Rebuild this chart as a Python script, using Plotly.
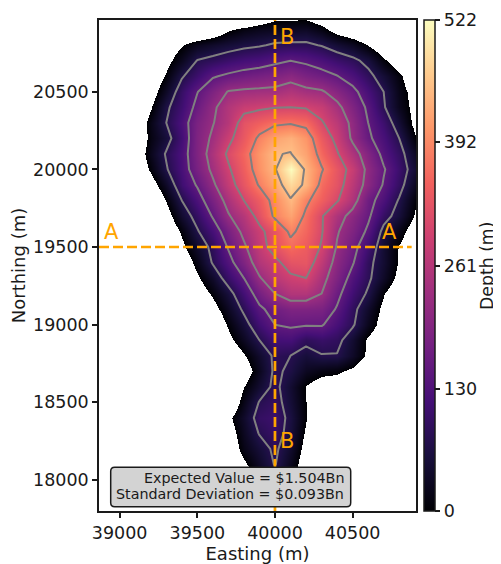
import plotly.graph_objects as go

# grid positions (m)
easting = [38900 + 100 * i for i in range(22)]
northing = [21000 - 100 * i for i in range(32)]

# depth (m), rows north to south; negative = outside the orebody
depth = [
 [-60,-60,-60,-60,-60,-60,-60,-60,-60,-80,-50,-20,-20,-20,-40,-60,-60,-60,-60,-60,-60,-60],
 [-60,-60,-60,-60,-60,-60,-60,-40,-5,15,25,30,32,35,15,-20,-40,-60,-60,-60,-60,-60],
 [-60,-60,-60,-60,-30,-3,25,40,52,63,70,82,85,85,72,50,30,-2,-40,-60,-60,-60],
 [-60,-60,-60,-60,-15,28,77,90,105,118,125,138,150,140,125,105,88,60,8,-30,-60,-60],
 [-60,-60,-60,-40,5,70,105,145,160,172,180,190,205,185,170,152,125,90,50,10,-40,-60],
 [-60,-60,-60,-25,35,100,148,190,228,235,238,240,255,240,232,200,165,120,75,20,-20,-60],
 [-60,-60,-60,-3,65,110,165,215,255,282,290,298,300,295,280,240,190,140,80,25,-15,-60],
 [-60,-60,-50,20,75,125,185,222,260,325,345,365,370,360,305,268,210,150,105,50,-15,-60],
 [-60,-60,-50,15,55,115,190,235,285,335,385,420,435,405,335,285,215,160,120,75,5,-30],
 [-60,-60,-40,25,80,125,190,250,310,355,405,448,452,420,355,305,250,195,135,95,35,-20],
 [-60,-60,-50,10,70,122,182,237,292,345,400,445,522,440,380,330,280,210,155,105,50,-10],
 [-60,-60,-60,-25,35,110,155,215,275,330,380,425,480,440,360,325,265,205,145,95,30,-30],
 [-60,-60,-60,-60,3,75,125,185,245,300,340,395,445,385,345,305,250,170,125,70,8,-25],
 [-60,-60,-60,-60,-25,45,95,155,220,260,320,385,420,365,305,250,205,160,95,55,-5,-40],
 [-60,-60,-60,-60,-50,10,70,120,180,240,285,330,385,355,305,230,190,140,60,20,-30,-60],
 [-60,-60,-60,-60,-60,-12,40,90,155,215,275,325,360,340,295,220,170,110,45,-3,-40,-60],
 [-60,-60,-60,-60,-60,-40,15,80,130,190,255,285,325,330,270,205,155,90,45,-5,-50,-60],
 [-60,-60,-60,-60,-60,-60,-8,40,100,150,220,265,290,300,245,190,130,85,35,-15,-60,-60],
 [-60,-60,-60,-60,-60,-60,-35,8,55,115,175,225,255,255,225,165,110,68,0,-40,-60,-60],
 [-60,-60,-60,-60,-60,-60,-60,-20,30,85,140,170,190,190,185,145,90,40,-15,-50,-60,-60],
 [-60,-60,-60,-60,-60,-60,-60,-50,5,55,110,150,158,155,155,120,82,25,-25,-60,-60,-60],
 [-60,-60,-60,-60,-60,-60,-60,-60,-15,30,75,115,118,88,100,90,45,-8,-40,-60,-60,-60],
 [-60,-60,-60,-60,-60,-60,-60,-60,-50,-5,40,85,75,55,72,72,35,-10,-50,-60,-60,-60],
 [-60,-60,-60,-60,-60,-60,-60,-60,-60,-30,25,85,65,30,15,8,-12,-50,-60,-60,-60,-60],
 [-60,-60,-60,-60,-60,-60,-60,-60,-60,0,45,88,45,-3,-30,-30,-50,-60,-60,-60,-60,-60],
 [-60,-60,-60,-60,-60,-60,-60,-60,-50,20,78,95,50,0,-50,-60,-60,-60,-60,-60,-60,-60],
 [-60,-60,-60,-60,-60,-60,-60,-60,-12,40,95,105,60,2,-50,-60,-60,-60,-60,-60,-60,-60],
 [-60,-60,-60,-60,-60,-60,-60,-60,-30,30,78,100,55,-8,-60,-60,-60,-60,-60,-60,-60,-60],
 [-60,-60,-60,-60,-60,-60,-60,-60,-40,18,52,85,40,-20,-60,-60,-60,-60,-60,-60,-60,-60],
 [-60,-60,-60,-60,-60,-60,-60,-60,-60,-8,35,78,25,-30,-60,-60,-60,-60,-60,-60,-60,-60],
 [-60,-60,-60,-60,-60,-60,-60,-60,-60,-40,10,30,5,-40,-60,-60,-60,-60,-60,-60,-60,-60],
 [-60,-60,-60,-60,-60,-60,-60,-60,-60,-60,-60,-60,-60,-60,-60,-60,-60,-60,-60,-60,-60,-60],
]

magma = ["#000004","#180f3d","#440f76","#721f81","#9e2f7f","#cd4071","#f1605d","#fd9668","#feca8d","#fcfdbf"]
z_floor, z_top = -100, 522
f0 = -z_floor / (z_top - z_floor)
field_scale = [[0, "#ffffff"], [f0 - 1e-6, "#ffffff"]] + [
    [f0 + (1 - f0) * i / 9, c] for i, c in enumerate(magma)]
bar_scale = [[i / 9, c] for i, c in enumerate(magma)]

x_range = [38867, 40908]
y_range = [17800, 20962]
section_a_x = [38867, 40880]
section_a_y = [19500, 19500]
section_b_x = [40000, 40000]
section_b_y = [17800, 20962]
orange = "#ffa500"
ink = "#1a1a1a"
font = "DejaVu Sans"
big = 17.5
title_size = 18

fig = go.Figure()
fig.add_trace(go.Heatmap(x=easting, y=northing, z=depth, zsmooth="best", zmin=z_floor, zmax=z_top,
                         colorscale=field_scale, showscale=False, hoverinfo="skip"))
fig.add_trace(go.Contour(x=easting, y=northing, z=depth, autocontour=False,
                         contours=dict(start=75, end=450, size=75, coloring="none"),
                         line=dict(color="#808080", width=2, smoothing=0),
                         showscale=False, hoverinfo="skip"))
for xs, ys in ((section_a_x, section_a_y), (section_b_x, section_b_y)):
    fig.add_trace(go.Scatter(x=xs, y=ys, mode="lines", hoverinfo="skip",
                             line=dict(color=orange, width=2.7, dash="10px,4px")))
fig.add_trace(go.Scatter(x=[None, None], y=[None, None], mode="markers", hoverinfo="skip",
    marker=dict(color=[0, 522], cmin=0, cmax=522, colorscale=bar_scale, showscale=True,
        colorbar=dict(x=1.0252, xanchor="left", xpad=0, y=0, yanchor="bottom", yref="paper", ypad=0,
            len=1, lenmode="fraction", thickness=11, outlinewidth=1.5, outlinecolor=ink,
            tickmode="array", tickvals=[0, 130, 261, 392, 522], ticktext=["0", "130", "261", "392", "522"],
            ticks="outside", ticklen=5, tickwidth=1.5, tickcolor=ink,
            tickfont=dict(family=font, size=big, color=ink)))))

def label(txt, x, y):
    fig.add_annotation(x=x, y=y, xref="x", yref="y", text=txt, showarrow=False,
                       font=dict(family=font, size=21, color=orange))
label("A", 38950, 19597)
label("A", 40740, 19597)
label("B", 40077, 20852)
label("B", 40077, 18251)
fig.add_annotation(x=(487-99)/317, y=(511-266)/491, xref="paper", yref="paper", text="Depth (m)", textangle=-90,
                   xanchor="center", yanchor="middle", showarrow=False,
                   font=dict(family=font, size=17.3, color=ink))

# rounded summary box in plot-fraction coordinates
L, R, T, B, rx, ry = (110.7-99)/317, (350.7-99)/317, (511-467.3)/491, (511-506.7)/491, 4/317, 4/491
fig.add_shape(type="path", xref="paper", yref="paper", layer="above",
    path=f"M {L+rx} {B} L {R-rx} {B} Q {R} {B} {R} {B+ry} L {R} {T-ry} Q {R} {T} {R-rx} {T} "
         f"L {L+rx} {T} Q {L} {T} {L} {T-ry} L {L} {B+ry} Q {L} {B} {L+rx} {B} Z",
    fillcolor="#d3d3d3", line=dict(color=ink, width=1.5))
for txt, py in (("Expected Value = $1.504Bn", 478), ("Standard Deviation = $0.093Bn", 494)):
    fig.add_annotation(x=(345.5-99)/317, y=(511-py)/491, xref="paper", yref="paper", xanchor="right",
                       yanchor="middle", text=txt, showarrow=False,
                       font=dict(family=font, size=14.3, color=ink))

axis = dict(showline=True, mirror=True, linecolor=ink, linewidth=1.5, ticks="outside", ticklen=5,
            tickwidth=1.5, tickcolor=ink, showgrid=False, zeroline=False,
            tickfont=dict(family=font, size=big, color=ink), tickformat="d")
# the page adds an 8 px body margin, so the figure is 8 px smaller than the window
fig.update_layout(width=493, height=556, margin=dict(l=91, r=85, t=12, b=53, autoexpand=False),
    plot_bgcolor="white", paper_bgcolor="white", showlegend=False,
    xaxis=dict(axis, range=x_range, tickvals=[39000, 39500, 40000, 40500],
               title=dict(text="Easting (m)", standoff=9, font=dict(family=font, size=title_size, color=ink))),
    yaxis=dict(axis, range=y_range, tickvals=[18000, 18500, 19000, 19500, 20000, 20500],
               title=dict(text="Northing (m)", standoff=6, font=dict(family=font, size=title_size, color=ink))))
fig.write_html("out.html")
